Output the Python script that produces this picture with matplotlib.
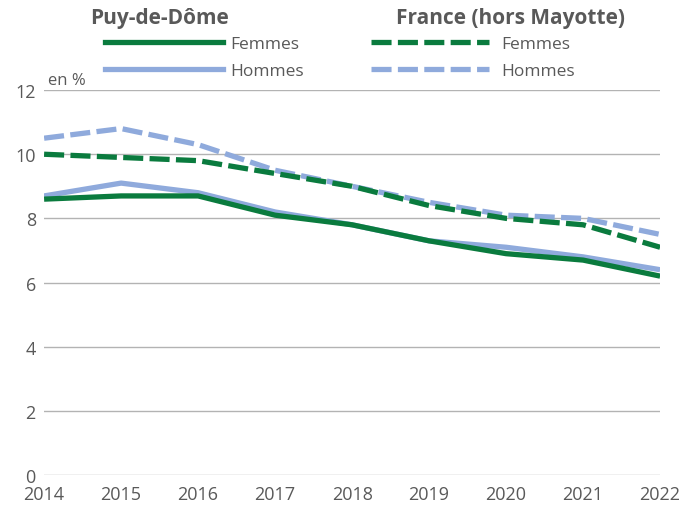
import matplotlib
matplotlib.use("Agg")
import matplotlib.pyplot as plt
from matplotlib.lines import Line2D

plt.rcParams['font.family'] = ['Open Sans', 'DejaVu Sans']

years = [2014, 2015, 2016, 2017, 2018, 2019, 2020, 2021, 2022]
pdd_femmes = [8.6, 8.7, 8.7, 8.1, 7.8, 7.3, 6.9, 6.7, 6.2]
pdd_hommes = [8.7, 9.1, 8.8, 8.2, 7.8, 7.3, 7.1, 6.8, 6.4]
fr_femmes = [10.0, 9.9, 9.8, 9.4, 9.0, 8.4, 8.0, 7.8, 7.1]
fr_hommes = [10.5, 10.8, 10.3, 9.5, 9.0, 8.5, 8.1, 8.0, 7.5]

green = '#0a7b3e'
blue = '#8faadc'
grey = '#595959'
lw = 3.8
dash = (3.8, 1.2)

fig = plt.figure(figsize=(7, 5.06), dpi=100)
ax = fig.add_axes([0.063, 0.0593, 0.880, 0.7607])

ax.plot(years, fr_hommes, color=blue, lw=lw, dashes=dash)
ax.plot(years, fr_femmes, color=green, lw=lw, dashes=dash)
ax.plot(years, pdd_hommes, color=blue, lw=lw, solid_capstyle='butt')
ax.plot(years, pdd_femmes, color=green, lw=lw, solid_capstyle='butt')

ax.set_xlim(2014, 2022)
ax.set_ylim(0, 12)
ax.set_yticks(range(0, 13, 2))
ax.set_xticks(years)
ax.grid(axis='y', color='#b3b3b3', lw=1)
ax.set_axisbelow(True)
for s in ax.spines.values():
    s.set_visible(False)
ax.tick_params(length=0, labelsize=13, labelcolor=grey)
ax.tick_params(axis='x', pad=7)
ax.tick_params(axis='y', pad=6)
ax.text(0.006, 1.005, 'en %', transform=ax.transAxes, fontsize=12, color=grey,
        ha='left', va='bottom')

# legend
fig.text(0.228, 0.964, 'Puy-de-Dôme', fontsize=15, fontweight='bold', color=grey,
         ha='center', va='center')
fig.text(0.729, 0.964, 'France (hors Mayotte)', fontsize=15, fontweight='bold', color=grey,
         ha='center', va='center')
h1 = [Line2D([], [], color=green, lw=lw), Line2D([], [], color=blue, lw=lw)]
h2 = [Line2D([], [], color=green, lw=lw, dashes=dash),
      Line2D([], [], color=blue, lw=lw, dashes=dash)]
leg1 = fig.legend(h1, ['Femmes', 'Hommes'], loc='upper left',
                  bbox_to_anchor=(0.127, 0.958), frameon=False, fontsize=12.5,
                  handlelength=6.8, handletextpad=0.45, labelspacing=0.65,
                  labelcolor=grey)
leg2 = fig.legend(h2, ['Femmes', 'Hommes'], loc='upper left',
                  bbox_to_anchor=(0.508, 0.958), frameon=False, fontsize=12.5,
                  handlelength=6.8, handletextpad=0.7, labelspacing=0.65,
                  labelcolor=grey)

fig.savefig('out.png', dpi=100)
